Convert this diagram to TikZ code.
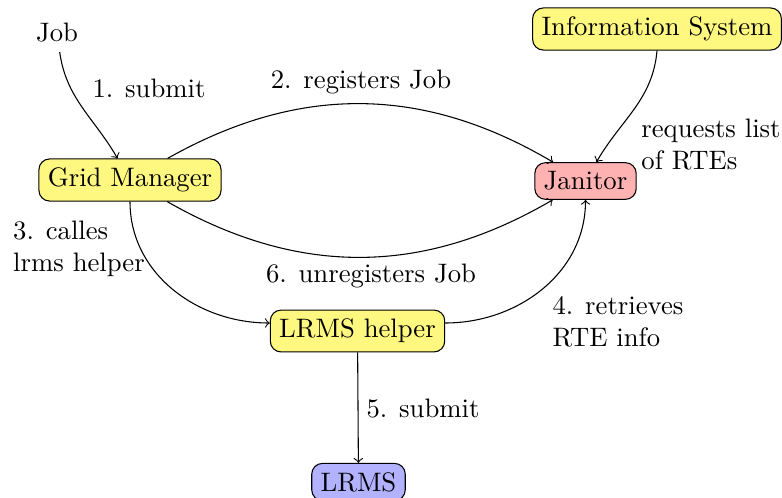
\documentclass[tikz,border=0pt]{standalone}
\usetikzlibrary{arrows}
\begin{document}
\begin{tikzpicture}[x=0.3745pt,y=-0.3745pt,
  box/.style={draw,rounded corners=4pt,fill=#1},
  lbl/.style={align=left},
  conn/.style={->}]
\useasboundingbox (0,0) rectangle (782,497);
% components
\node (job) at (57,33) {Job};
\node[box=yellow!50] (gm) at (130,180) {Grid Manager};
\node[box=yellow!50] (info) at (657,29) {Information System};
\node[box=red!30] (jan) at (585.5,181) {Janitor};
\node[box=yellow!50] (helper) at (357.5,331) {LRMS helper};
\node[box=blue!30] (lrms) at (358.5,482) {LRMS};
% connectors
\draw[conn] (job) to[out=-82,in=120] (gm);
\draw[conn] (gm) to[bend left=30] (jan);
\draw[conn] (gm) to[bend right=30] (jan);
\draw[conn] (gm.south) to[out=-90,in=180] ([yshift=3pt]helper.west);
\draw[conn] ([yshift=3pt]helper.east) to[out=0,in=-90] (jan.south);
\draw[conn] (helper) -- (lrms);
\draw[conn] (info.south) to[out=-95,in=60] (jan);
% labels
\node[lbl] (l1) at (149,88) {1. submit};
\node[lbl] (l2) at (361,82) {2. registers Job};
\node[lbl] (l3) at (79,249) {3. calles\\lrms helper};
\node[lbl] (l4) at (618,322) {4. retrieves\\RTE info};
\node[lbl] (l5) at (423,409) {5. submit};
\node[lbl] (l6) at (371,276) {6. unregisters Job};
\node[lbl] (l7) at (711,145) {requests list\\of RTEs};
\end{tikzpicture}
\end{document}
